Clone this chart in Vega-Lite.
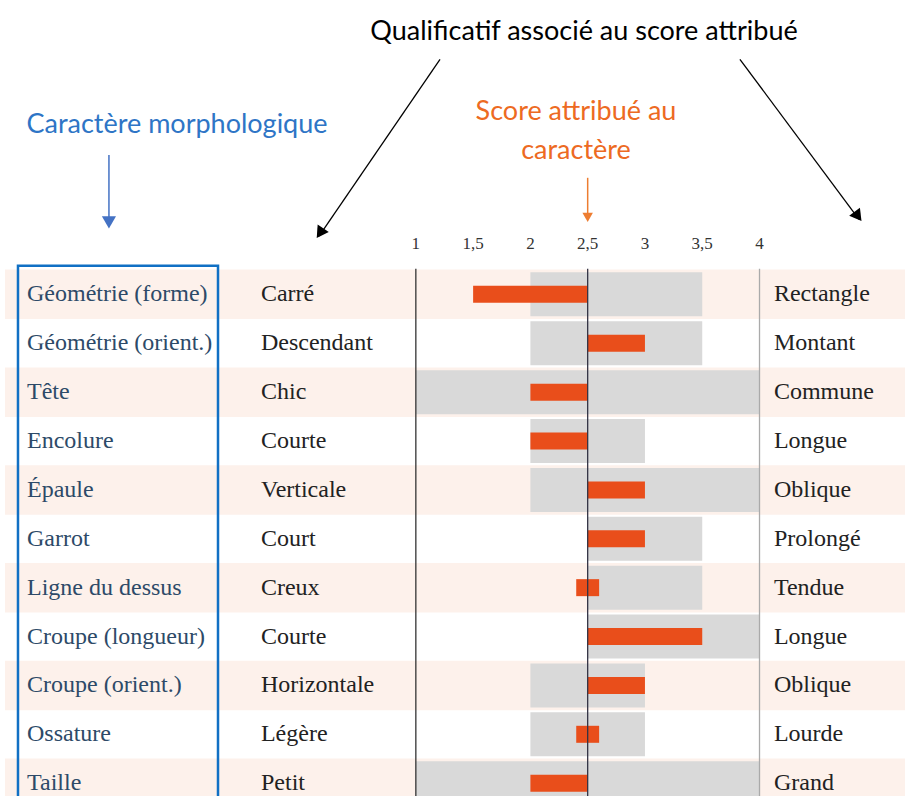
{
  "$schema": "https://vega.github.io/schema/vega-lite/v6.json",
  "width": 905,
  "height": 796,
  "padding": 0,
  "autosize": {"type": "none"},
  "background": "white",
  "config": {"view": {"stroke": null}},
  "datasets": {
    "rows": [
      {"row": 1, "trait": "Géométrie (forme)", "low": "Carré", "high": "Rectangle", "rmin": 2, "rmax": 3.5, "s0": 1.5, "s1": 2.5},
      {"row": 2, "trait": "Géométrie (orient.)", "low": "Descendant", "high": "Montant", "rmin": 2, "rmax": 3.5, "s0": 2.5, "s1": 3},
      {"row": 3, "trait": "Tête", "low": "Chic", "high": "Commune", "rmin": 1, "rmax": 4, "s0": 2, "s1": 2.5},
      {"row": 4, "trait": "Encolure", "low": "Courte", "high": "Longue", "rmin": 2, "rmax": 3, "s0": 2, "s1": 2.5},
      {"row": 5, "trait": "Épaule", "low": "Verticale", "high": "Oblique", "rmin": 2, "rmax": 4, "s0": 2.5, "s1": 3},
      {"row": 6, "trait": "Garrot", "low": "Court", "high": "Prolongé", "rmin": 2.5, "rmax": 3.5, "s0": 2.5, "s1": 3},
      {"row": 7, "trait": "Ligne du dessus", "low": "Creux", "high": "Tendue", "rmin": 2.5, "rmax": 3.5, "s0": 2.4, "s1": 2.6},
      {"row": 8, "trait": "Croupe (longueur)", "low": "Courte", "high": "Longue", "rmin": 2.5, "rmax": 4, "s0": 2.5, "s1": 3.5},
      {"row": 9, "trait": "Croupe (orient.)", "low": "Horizontale", "high": "Oblique", "rmin": 2, "rmax": 3, "s0": 2.5, "s1": 3},
      {"row": 10, "trait": "Ossature", "low": "Légère", "high": "Lourde", "rmin": 2, "rmax": 3, "s0": 2.4, "s1": 2.6},
      {"row": 11, "trait": "Taille", "low": "Petit", "high": "Grand", "rmin": 1, "rmax": 4, "s0": 2, "s1": 2.5}
    ],
    "ticks": [
      {"v": 1, "lab": "1"}, {"v": 1.5, "lab": "1,5"}, {"v": 2, "lab": "2"}, {"v": 2.5, "lab": "2,5"},
      {"v": 3, "lab": "3"}, {"v": 3.5, "lab": "3,5"}, {"v": 4, "lab": "4"}
    ],
    "one": [{"k": 1}]
  },
  "data": {"name": "rows"},
  "layer": [
    {
      "transform": [{"filter": "datum.row % 2 == 1"}],
      "mark": {"type": "bar", "height": 49.5, "color": "#fdf1eb"},
      "encoding": {
        "x": {"datum": -2.586, "type": "quantitative", "scale": {"domain": [-2.63, 5.27], "nice": false, "zero": false}, "axis": null},
        "x2": {"datum": 5.27},
        "y": {"field": "row", "type": "quantitative", "scale": {"domain": [-4.92, 11.16], "nice": false, "zero": false, "reverse": true}, "axis": null}
      }
    },
    {
      "mark": {"type": "bar", "height": 44, "color": "#d9d9d9"},
      "encoding": {
        "x": {"field": "rmin", "type": "quantitative", "axis": null},
        "x2": {"field": "rmax"},
        "y": {"field": "row", "type": "quantitative", "axis": null}
      }
    },
    {
      "data": {"name": "one"},
      "mark": {"type": "rule", "color": "#333333", "strokeWidth": 1.3},
      "encoding": {
        "x": {"datum": 1, "type": "quantitative", "axis": null},
        "y": {"datum": 0.474, "type": "quantitative", "axis": null},
        "y2": {"datum": 11.5}
      }
    },
    {
      "data": {"name": "one"},
      "mark": {"type": "rule", "color": "#aaaaaa", "strokeWidth": 1.3},
      "encoding": {
        "x": {"datum": 4, "type": "quantitative", "axis": null},
        "y": {"datum": 0.474, "type": "quantitative", "axis": null},
        "y2": {"datum": 11.5}
      }
    },
    {
      "mark": {"type": "bar", "height": 17, "color": "#e94e1b"},
      "encoding": {
        "x": {"field": "s0", "type": "quantitative", "axis": null},
        "x2": {"field": "s1"},
        "y": {"field": "row", "type": "quantitative", "axis": null}
      }
    },
    {
      "data": {"name": "one"},
      "mark": {"type": "rule", "color": "#333344", "strokeWidth": 1.3},
      "encoding": {
        "x": {"datum": 2.5, "type": "quantitative", "axis": null},
        "y": {"datum": 0.474, "type": "quantitative", "axis": null},
        "y2": {"datum": 11.5}
      }
    },
    {
      "mark": {"type": "text", "align": "left", "baseline": "middle", "font": "Liberation Serif", "fontSize": 24, "color": "#2d4a68"},
      "encoding": {
        "x": {"datum": -2.394, "type": "quantitative", "axis": null},
        "y": {"field": "row", "type": "quantitative", "axis": null},
        "text": {"field": "trait"}
      }
    },
    {
      "mark": {"type": "text", "align": "left", "baseline": "middle", "font": "Liberation Serif", "fontSize": 24, "color": "#222222"},
      "encoding": {
        "x": {"datum": -0.352, "type": "quantitative", "axis": null},
        "y": {"field": "row", "type": "quantitative", "axis": null},
        "text": {"field": "low"}
      }
    },
    {
      "mark": {"type": "text", "align": "left", "baseline": "middle", "font": "Liberation Serif", "fontSize": 24, "color": "#222222"},
      "encoding": {
        "x": {"datum": 4.126, "type": "quantitative", "axis": null},
        "y": {"field": "row", "type": "quantitative", "axis": null},
        "text": {"field": "high"}
      }
    },
    {
      "data": {"name": "one"},
      "mark": {"type": "rect", "filled": false, "stroke": "#1170c4", "strokeWidth": 2.5},
      "encoding": {
        "x": {"datum": -2.473, "type": "quantitative", "axis": null},
        "x2": {"datum": -0.727},
        "y": {"datum": 0.413, "type": "quantitative", "axis": null},
        "y2": {"datum": 11.5}
      }
    },
    {
      "data": {"name": "ticks"},
      "mark": {"type": "text", "align": "center", "baseline": "middle", "font": "Liberation Serif", "fontSize": 17, "color": "#333333"},
      "encoding": {
        "x": {"field": "v", "type": "quantitative", "axis": null},
        "y": {"datum": -0.031, "type": "quantitative", "axis": null},
        "text": {"field": "lab"}
      }
    },
    {
      "data": {"name": "one"},
      "mark": {"type": "text", "text": "Qualificatif associé au score attribué", "align": "center", "baseline": "middle", "font": "Lato", "fontSize": 27, "color": "#000000"},
      "encoding": {
        "x": {"datum": 2.468, "type": "quantitative", "axis": null},
        "y": {"datum": -4.375, "type": "quantitative", "axis": null}
      }
    },
    {
      "data": {"name": "one"},
      "mark": {"type": "text", "text": "Caractère morphologique", "align": "center", "baseline": "middle", "font": "Lato", "fontSize": 27, "color": "#2e75c6"},
      "encoding": {
        "x": {"datum": -1.085, "type": "quantitative", "axis": null},
        "y": {"datum": -2.455, "type": "quantitative", "axis": null}
      }
    },
    {
      "data": {"name": "one"},
      "mark": {"type": "text", "text": ["Score attribué au", "caractère"], "lineHeight": 39, "align": "center", "baseline": "middle", "font": "Lato", "fontSize": 27, "color": "#ed6a22"},
      "encoding": {
        "x": {"datum": 2.398, "type": "quantitative", "axis": null},
        "y": {"datum": -2.73, "type": "quantitative", "axis": null}
      }
    },
    {
      "data": {"name": "one"},
      "mark": {"type": "rule", "color": "#4472c4", "strokeWidth": 1.5},
      "encoding": {
        "x": {"datum": -1.679, "type": "quantitative", "axis": null},
        "y": {"datum": -1.849, "type": "quantitative", "axis": null},
        "y2": {"datum": -0.577}
      }
    },
    {
      "data": {"name": "one"},
      "mark": {"type": "point", "shape": "triangle-down", "filled": true, "size": 200, "color": "#4472c4", "opacity": 1},
      "encoding": {
        "x": {"datum": -1.679, "type": "quantitative", "axis": null},
        "y": {"datum": -0.475, "type": "quantitative", "axis": null}
      }
    },
    {
      "data": {"name": "one"},
      "mark": {"type": "rule", "color": "#ed7d31", "strokeWidth": 1.5},
      "encoding": {
        "x": {"datum": 2.5, "type": "quantitative", "axis": null},
        "y": {"datum": -1.385, "type": "quantitative", "axis": null},
        "y2": {"datum": -0.637}
      }
    },
    {
      "data": {"name": "one"},
      "mark": {"type": "point", "shape": "triangle-down", "filled": true, "size": 110, "color": "#ed7d31", "opacity": 1},
      "encoding": {
        "x": {"datum": 2.5, "type": "quantitative", "axis": null},
        "y": {"datum": -0.576, "type": "quantitative", "axis": null}
      }
    },
    {
      "data": {"name": "one"},
      "mark": {"type": "rule", "color": "#000000", "strokeWidth": 1.3},
      "encoding": {
        "x": {"datum": 1.211, "type": "quantitative", "axis": null},
        "x2": {"datum": 0.155},
        "y": {"datum": -3.809, "type": "quantitative", "axis": null},
        "y2": {"datum": -0.193}
      }
    },
    {
      "data": {"name": "one"},
      "mark": {"type": "point", "shape": "triangle-down", "filled": true, "size": 180, "color": "#000000", "opacity": 1, "angle": 34},
      "encoding": {
        "x": {"datum": 0.163, "type": "quantitative", "axis": null},
        "y": {"datum": -0.253, "type": "quantitative", "axis": null}
      }
    },
    {
      "data": {"name": "one"},
      "mark": {"type": "rule", "color": "#000000", "strokeWidth": 1.3},
      "encoding": {
        "x": {"datum": 3.829, "type": "quantitative", "axis": null},
        "x2": {"datum": 4.868},
        "y": {"datum": -3.809, "type": "quantitative", "axis": null},
        "y2": {"datum": -0.536}
      }
    },
    {
      "data": {"name": "one"},
      "mark": {"type": "point", "shape": "triangle-down", "filled": true, "size": 180, "color": "#000000", "opacity": 1, "angle": -37},
      "encoding": {
        "x": {"datum": 4.86, "type": "quantitative", "axis": null},
        "y": {"datum": -0.597, "type": "quantitative", "axis": null}
      }
    }
  ]
}
